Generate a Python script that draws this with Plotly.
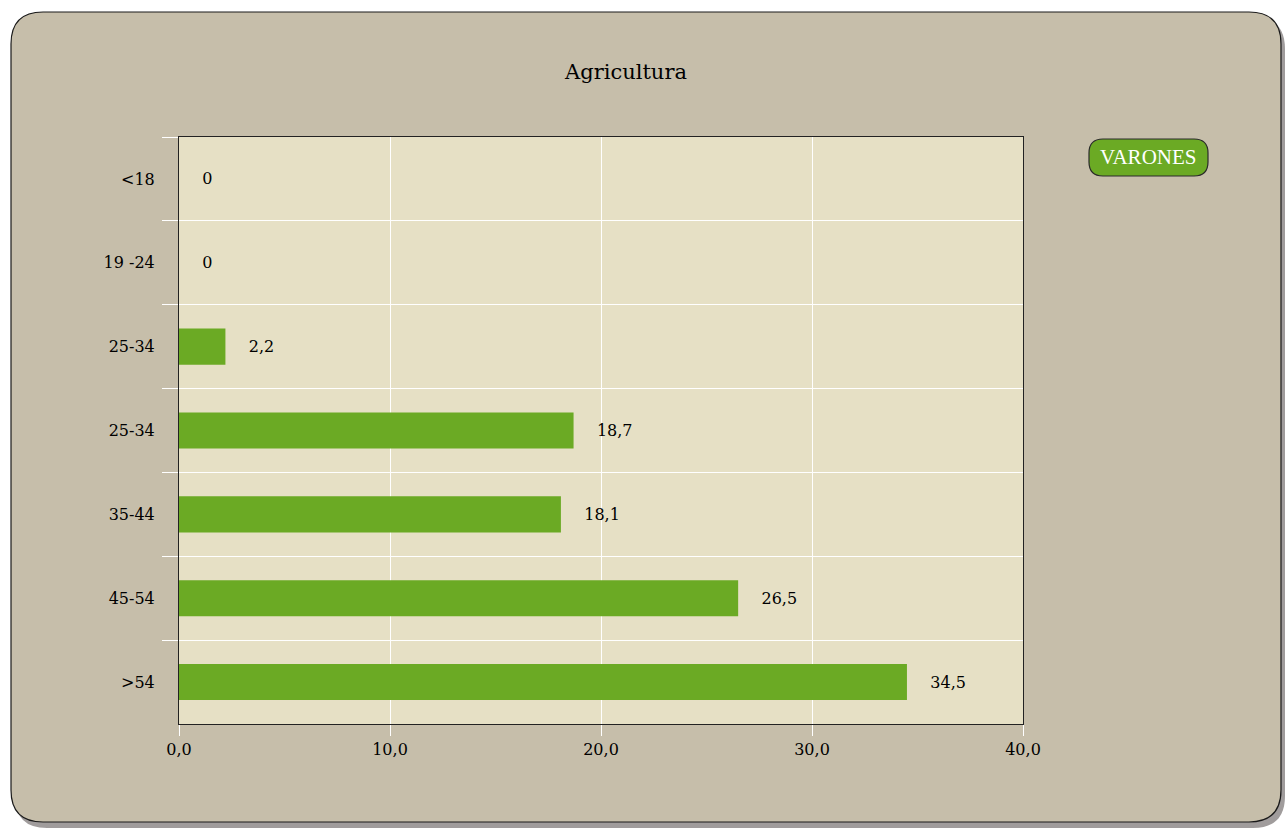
import plotly.graph_objects as go

# ---- data ----
categories = ["<18", "19 -24", "25-34", "25-34\u200b", "35-44", "45-54", ">54"]
values = [0, 0, 2.2, 18.7, 18.1, 26.5, 34.5]
value_labels = ["0", "0", "2,2", "18,7", "18,1", "26,5", "34,5"]
x_ticks = [0, 10, 20, 30, 40]
x_tick_labels = ["0,0", "10,0", "20,0", "30,0", "40,0"]
series_name = "VARONES"
chart_title = "Agricultura"

W, H = 1285, 829
OFF = 0  # body margin removed via post_script
L, R, T, B = 179 - OFF, 1023 - OFF, 137 - OFF, 724 - OFF  # plot area in figure px

BG = "#C6BEAA"
PLOT_BG = "#E6E0C5"
GREEN = "#6BAA24"
SHADOW = "#A09C9C"
FONT = "DejaVu Serif"
TXT = "#000000"


def px(x):
    return (x - OFF - L) / (R - L)


def py(y):
    return (B - (y - OFF)) / (B - T)


def rounded_path(x0, y0, x1, y1, r):
    # target-screen pixel coords (y down) -> paper path
    pts = [
        f"M {px(x0 + r)},{py(y0)}",
        f"L {px(x1 - r)},{py(y0)}",
        f"Q {px(x1)},{py(y0)} {px(x1)},{py(y0 + r)}",
        f"L {px(x1)},{py(y1 - r)}",
        f"Q {px(x1)},{py(y1)} {px(x1 - r)},{py(y1)}",
        f"L {px(x0 + r)},{py(y1)}",
        f"Q {px(x0)},{py(y1)} {px(x0)},{py(y1 - r)}",
        f"L {px(x0)},{py(y0 + r)}",
        f"Q {px(x0)},{py(y0)} {px(x0 + r)},{py(y0)}",
        "Z",
    ]
    return " ".join(pts)


fig = go.Figure()
fig.add_trace(go.Bar(
    x=values,
    y=categories,
    orientation="h",
    marker=dict(color=GREEN, line=dict(width=0)),
    text=["\u00a0\u00a0\u00a0\u00a0" + t for t in value_labels],
    textposition="outside",
    constraintext="none",
    cliponaxis=False,
    textfont=dict(family=FONT, size=16, color=TXT),
    name=series_name,
    showlegend=False,
    hoverinfo="skip",
))

shapes = [
    dict(type="path", xref="paper", yref="paper", layer="below",
         path=rounded_path(15, 17, 1285, 828, 32),
         fillcolor=SHADOW, line=dict(width=0)),
    dict(type="path", xref="paper", yref="paper", layer="below",
         path=rounded_path(11, 12, 1281, 822, 32),
         fillcolor=BG, line=dict(color="#1a1a1a", width=1.2)),
    dict(type="rect", xref="paper", yref="paper", layer="below",
         x0=0, x1=1, y0=0, y1=1,
         fillcolor=PLOT_BG, line=dict(width=0)),
    dict(type="path", xref="paper", yref="paper", layer="above",
         path=rounded_path(1089, 139, 1208, 176, 14),
         fillcolor=GREEN, line=dict(color="#2a2a2a", width=1.2)),
]

fig.update_layout(
    width=W, height=H,
    margin=dict(l=L, r=W - R, t=T, b=H - B, pad=0),
    paper_bgcolor="white",
    plot_bgcolor=PLOT_BG,
    bargap=0.57,
    showlegend=False,
    shapes=shapes,
    font=dict(family=FONT, size=16, color=TXT),
    title=dict(text=chart_title, xref="container", yref="container",
               x=(626 - OFF) / W, y=1 - (72 - OFF) / H,
               xanchor="center", yanchor="middle",
               font=dict(family=FONT, size=21, color=TXT)),
    annotations=[
        dict(text=series_name, xref="paper", yref="paper",
             x=px(1148), y=py(157.5), xanchor="center", yanchor="middle",
             showarrow=False,
             font=dict(family="Liberation Serif", size=21, color="white")),
    ],
    xaxis=dict(
        range=[0, 40],
        tickvals=x_ticks, ticktext=x_tick_labels,
        showgrid=True, gridcolor="white", gridwidth=1,
        zeroline=False,
        ticks="outside", ticklen=11, tickcolor="white", tickwidth=1,
        showline=True, linecolor="#222222", linewidth=1, mirror=True,
        tickfont=dict(family=FONT, size=16, color=TXT),
        fixedrange=True,
    ),
    yaxis=dict(
        type="category",
        categoryorder="array", categoryarray=categories,
        autorange="reversed",
        tickson="boundaries",
        showgrid=True, gridcolor="white", gridwidth=1,
        ticks="outside", ticklen=16, tickcolor="white", tickwidth=1,
        showline=True, linecolor="#222222", linewidth=1, mirror=True,
        ticklabelstandoff=20,
        tickfont=dict(family=FONT, size=16, color=TXT),
        fixedrange=True,
    ),
)

fig.write_html(
    "out.html",
    config={"displayModeBar": False},
    post_script="document.body.style.margin='0';document.body.style.overflow='hidden';",
)
